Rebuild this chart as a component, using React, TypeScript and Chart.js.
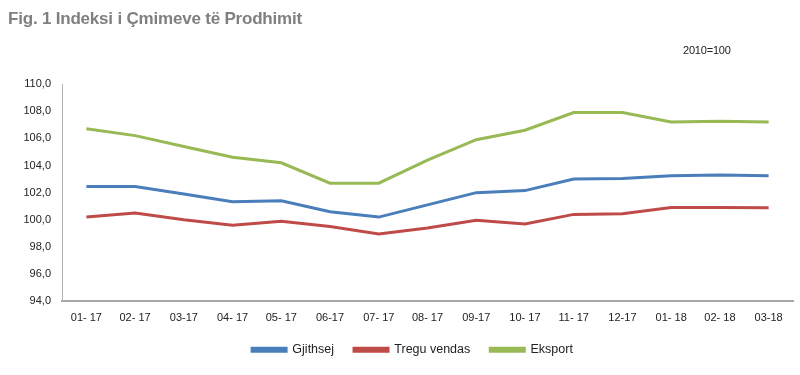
import React, { useEffect, useRef } from "react";
import { Chart, registerables } from "chart.js";

Chart.register(...registerables);

const categories = ["01- 17", "02- 17", "03-17", "04- 17", "05- 17", "06-17", "07- 17", "08- 17", "09-17", "10- 17", "11- 17", "12-17", "01- 18", "02- 18", "03-18"];
const gjithsej = [102.45, 102.45, 101.9, 101.33, 101.4, 100.6, 100.2, 101.1, 102.0, 102.15, 103.0, 103.05, 103.25, 103.3, 103.25];
const treguVendas = [100.2, 100.5, 100.0, 99.6, 99.9, 99.5, 98.95, 99.4, 99.97, 99.7, 100.4, 100.45, 100.9, 100.9, 100.88];
const eksport = [106.7, 106.2, 105.4, 104.6, 104.2, 102.7, 102.7, 104.4, 105.9, 106.6, 107.9, 107.9, 107.2, 107.25, 107.2];
const yTicks = [94, 96, 98, 100, 102, 104, 106, 108, 110];
const titleText = "Fig. 1 Indeksi i Çmimeve të Prodhimit";
const baseText = "2010=100";

const FONT = "'Liberation Sans', Arial, sans-serif";

export default function App() {
  const ref = useRef<HTMLCanvasElement | null>(null);
  useEffect(() => {
    if (!ref.current) return;
    const textPlugin = {
      id: "texts",
      afterLayout(chart: any) {
        if (chart.legend) {
          chart.legend.left += 12;
          chart.legend.right += 12;
        }
      },
      afterDraw(chart: any) {
        const ctx = chart.ctx as CanvasRenderingContext2D;
        ctx.save();
        ctx.fillStyle = "#7f7f7f";
        ctx.font = `bold 17px ${FONT}`;
        (ctx as any).letterSpacing = "-0.2px";
        ctx.textBaseline = "middle";
        ctx.textAlign = "left";
        ctx.fillText(titleText, 8, 19);
        ctx.fillStyle = "#222";
        ctx.font = `11px ${FONT}`;
        (ctx as any).letterSpacing = "-0.2px";
        ctx.fillText(baseText, 683, 51);
        ctx.restore();
      },
    };
    const colors = ["#4a7ebb", "#be4b48", "#98b954"];
    const chart = new Chart(ref.current, {
      type: "line",
      data: {
        labels: categories,
        datasets: [
          { label: "Gjithsej", data: gjithsej },
          { label: "Tregu vendas", data: treguVendas },
          { label: "Eksport", data: eksport },
        ].map((d, i) => ({
          ...d,
          borderColor: colors[i],
          backgroundColor: colors[i],
          borderWidth: 3,
          pointRadius: 0,
          tension: 0,
        })),
      },
      options: {
        animation: false,
        responsive: false,
        layout: { padding: { top: 84, left: 8, right: 7, bottom: 9 } },
        plugins: {
          legend: {
            position: "bottom",
            labels: {
              boxWidth: 34,
              boxHeight: 3,
              padding: 20,
              color: "#222",
              font: { family: FONT, size: 12.5 },
            },
          },
          title: { display: false },
          tooltip: { enabled: false },
        },
        scales: {
          x: {
            offset: true,
            afterFit(scale: any) {
              scale.height -= 11;
            },
            grid: { display: false, drawTicks: false },
            border: { display: true, color: "#a6a6a6", width: 2 },
            ticks: { color: "#222", font: { family: FONT, size: 11 }, padding: 10, maxRotation: 0, autoSkip: false },
          },
          y: {
            min: 94,
            max: 110,
            afterFit(scale: any) {
              scale.width = 54;
            },
            afterBuildTicks(scale: any) {
              scale.ticks = yTicks.map((v) => ({ value: v }));
            },
            grid: { display: false, drawTicks: false },
            border: { display: true, color: "#b0b0b0", width: 1 },
            ticks: {
              color: "#222",
              font: { family: FONT, size: 11 },
              padding: 11,
              callback: (v: any) => Number(v).toFixed(1).replace(".", ","),
            },
          },
        },
      },
      plugins: [textPlugin],
    });
    return () => chart.destroy();
  }, []);
  return (
    <div style={{ position: "fixed", left: 0, top: 0, width: 800, height: 375, background: "#fff" }}>
      <canvas ref={ref} width={800} height={375} style={{ display: "block" }} />
    </div>
  );
}
